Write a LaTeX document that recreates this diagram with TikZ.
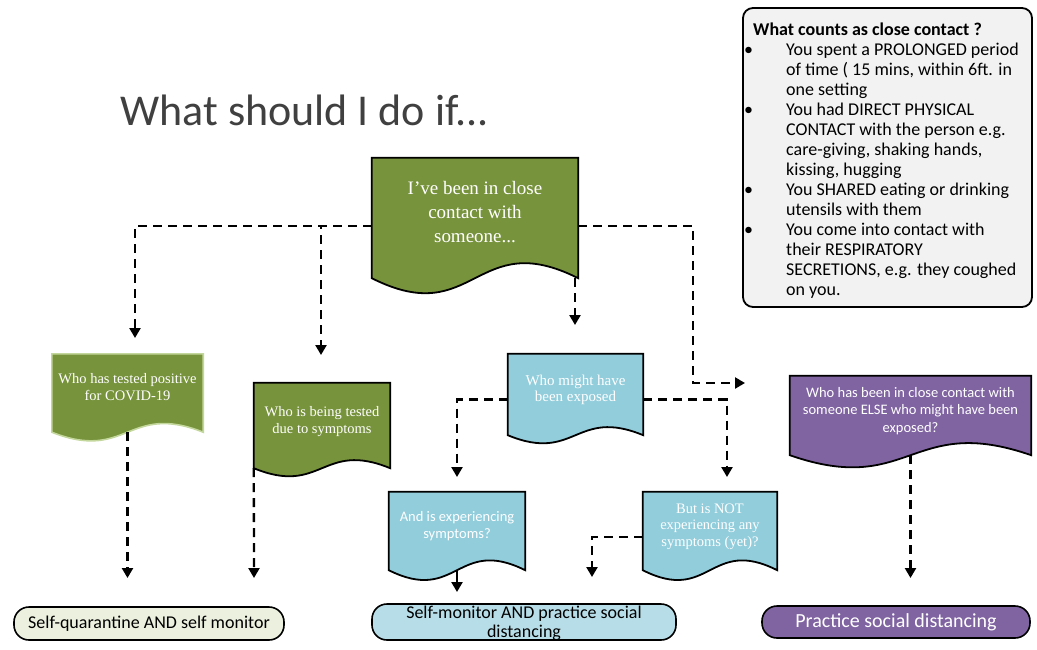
\documentclass[tikz,border=0pt]{standalone}
\usepackage{fontspec}
\setmainfont{Carlito}
\newfontfamily\timesfont{Liberation Serif}
\usepackage{tikz}
\usetikzlibrary{arrows.meta,positioning,calc,backgrounds}

\definecolor{docgreen}{HTML}{77933C}
\definecolor{edgegreen}{HTML}{C3D69B}
\definecolor{docblue}{HTML}{92CDDC}
\definecolor{docpurple}{HTML}{8064A2}
\definecolor{pillcream}{HTML}{EBF1DE}
\definecolor{pillblue}{HTML}{B7DEE8}
\definecolor{boxgray}{HTML}{F2F2F2}
\definecolor{titlegray}{HTML}{404040}

% document outline with a wavy bottom, drawn behind node #1
\newcommand{\docoutline}[3]{%
  \begin{pgfonlayer}{background}
  \draw[#3] (#1.south west) -- (#1.north west) -- (#1.north east) -- (#1.south east)
    .. controls ($(#1.south)+(0,-#2)$) and ($(#1.south)+(0,#2)$) .. (#1.south west) -- cycle;
  \end{pgfonlayer}}
% bullet mark for the close contact list
\newcommand{\itemdot}{\makebox[33pt][l]{\kern-9pt\textbullet}}

\tikzset{
  docbox/.style={inner sep=0pt, align=center, text=white, text depth=12pt},
  dashflow/.style={line width=2.3pt, dash pattern=on 9pt off 6pt, -{Triangle[width=11pt,length=10pt]}},
  solidflow/.style={line width=2.3pt, -{Triangle[width=11pt,length=10pt]}},
  pill/.style={draw, line width=1.6pt, rounded corners=15pt, inner sep=0pt, align=center}
}

\begin{document}
\begin{tikzpicture}[x=1pt,y=-1pt]
\useasboundingbox (0,0) rectangle (1037,649);

% Title
\node[anchor=base west, text=titlegray, font=\fontsize{44}{50}\selectfont] (title) at (117,125) {What should I do if...};

% Close contact box
\node[draw, line width=1.8pt, rounded corners=10pt, fill=boxgray, minimum width=289pt, minimum height=299pt] (closecontact) at (887.5,157.5) {};
\node[inner sep=0pt, font=\fontsize{18}{20}\selectfont] (closecontacttext) at (886,161.5) {%
  \begin{tabular}{@{}l@{}l@{}}
  \multicolumn{2}{@{}l@{}}{\bfseries What counts as close contact ?}\\
  \itemdot & You spent a PROLONGED period\\
   & of time ( 15 mins, within 6ft. in\\
   & one setting\\
  \itemdot & You had DIRECT PHYSICAL\\
   & CONTACT with the person e.g.\\
   & care-giving, shaking hands,\\
   & kissing, hugging\\
  \itemdot & You SHARED eating or drinking\\
   & utensils with them\\
  \itemdot & You come into contact with\\
   & their RESPIRATORY\\
   & SECRETIONS, e.g. they coughed\\
   & on you.
  \end{tabular}};

% Documents
\node[docbox, minimum width=206pt, minimum height=120pt, font=\timesfont\fontsize{19}{24}\selectfont] (contact) at (475,218) {I’ve been in close\\contact with\\someone...};
\docoutline{contact}{52}{fill=docgreen, draw=black, line width=1.8pt}

\node[docbox, minimum width=151pt, minimum height=78pt, font=\timesfont\fontsize{14.5}{17}\selectfont] (positive) at (127.5,393) {Who has tested positive\\for COVID-19};
\docoutline{positive}{30}{fill=docgreen, draw=edgegreen, line width=1.6pt}

\node[docbox, minimum width=136pt, minimum height=85pt, font=\timesfont\fontsize{14.5}{17}\selectfont] (testing) at (322,425.5) {Who is being tested\\due to symptoms};
\docoutline{testing}{28}{fill=docgreen, draw=black, line width=1.8pt}

\node[docbox, minimum width=135pt, minimum height=81pt, font=\timesfont\fontsize{15}{16}\selectfont] (exposed) at (575.5,394.5) {Who might have\\been exposed};
\docoutline{exposed}{28}{fill=docblue, draw=black, line width=1.8pt}

\node[docbox, minimum width=136pt, minimum height=78pt, font=\fontsize{14.5}{17}\selectfont] (symptoms) at (457,531) {And is experiencing\\symptoms?};
\docoutline{symptoms}{34}{fill=docblue, draw=black, line width=1.8pt}

\node[docbox, minimum width=134pt, minimum height=78pt, font=\timesfont\fontsize{14.5}{16.5}\selectfont] (nosymptoms) at (710,531) {But is NOT\\experiencing any\\symptoms (yet)?};
\docoutline{nosymptoms}{34}{fill=docblue, draw=black, line width=1.8pt}

\node[docbox, minimum width=241pt, minimum height=79pt, font=\fontsize{14.5}{17.5}\selectfont] (closeother) at (910.5,415.5) {Who has been in close contact with\\someone ELSE who might have been\\exposed?};
\docoutline{closeother}{42}{fill=docpurple, draw=black, line width=1.8pt}

% Outcomes
\node[pill, fill=pillcream, minimum width=270pt, minimum height=33pt, font=\fontsize{18}{20}\selectfont] (quarantine) at (149,623.5) {Self-quarantine AND self monitor};
\node[pill, fill=pillblue, minimum width=304pt, minimum height=36pt, font=\fontsize{18}{19}\selectfont, text depth=0pt] (monitoring) at (524,622) {Self-monitor AND practice social\\distancing};
\node[pill, fill=docpurple, text=white, minimum width=268pt, minimum height=32pt, font=\fontsize{20}{24}\selectfont] (distancing) at (896,622) {Practice social distancing};

% Arrow ends
\coordinate (tipPositive) at (135,338);
\coordinate (tipTesting) at (321,355);
\coordinate (turnOther) at (693,383);
\coordinate (tipOther) at (745,383);
\coordinate (tipExposed) at (575,325);
\coordinate (tipQuar1) at (127.5,578);
\coordinate (tipQuar2) at (254,578);
\coordinate (tipSymptoms) at (457,477);
\coordinate (tipNoSymptoms) at (727,477);
\coordinate (tipMon1) at (457,592);
\coordinate (tipMon2) at (592,577);
\coordinate (tipDist) at (910.5,578);

% Connectors
\draw[dashflow] ($(contact.west)+(0,8)$) -| (tipPositive);
\draw[dashflow] ($(contact.west)+(0,8)$) -| (tipTesting);
\draw[dashflow] ($(contact.east)+(0,8)$) -| (turnOther) -- (tipOther);
\draw[dashflow] (contact.south east -| tipExposed) -- (tipExposed);
\draw[dashflow] (positive.south) -- (tipQuar1);
\draw[dashflow] (testing.south west) -- (tipQuar2);
\draw[dashflow] ($(exposed.west)+(0,5)$) -| (tipSymptoms);
\draw[dashflow] ($(exposed.east)+(0,5)$) -| (tipNoSymptoms);
\draw[solidflow] (symptoms.south) -- (tipMon1);
\draw[dashflow] ($(nosymptoms.west)+(0,6)$) -| (tipMon2);
\draw[dashflow] (closeother.south) -- (tipDist);
\end{tikzpicture}
\end{document}
